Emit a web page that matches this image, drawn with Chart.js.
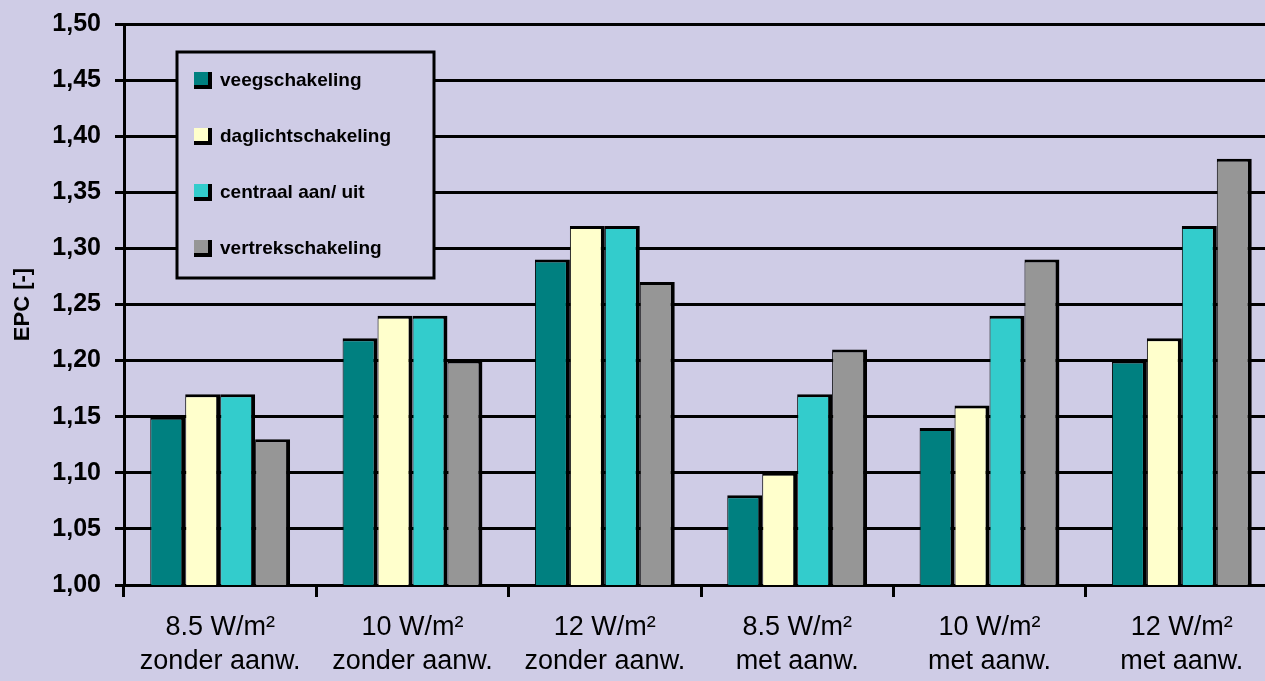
<!DOCTYPE html>
<html>
<head>
<meta charset="utf-8">
<title>EPC per verlichtingsschakeling</title>
<script src="https://cdn.jsdelivr.net/npm/chart.js@4.4.1/dist/chart.umd.min.js"></script>
<style>
    html, body { margin: 0; padding: 0; background: #cfcce6; overflow: hidden; }
    #wrap { width: 1292px; height: 681px; }
</style>
</head>
<body>
<div id="wrap"><canvas id="chart_epc" width="1292" height="681"></canvas></div>
<script>
const CATEGORIES = [
    ['8.5 W/m²', 'zonder aanw.'],
    ['10 W/m²', 'zonder aanw.'],
    ['12 W/m²', 'zonder aanw.'],
    ['8.5 W/m²', 'met aanw.'],
    ['10 W/m²', 'met aanw.'],
    ['12 W/m²', 'met aanw.']
];

const SERIES_NAMES = ['veegschakeling', 'daglichtschakeling', 'centraal aan/ uit', 'vertrekschakeling'];
const SERIES_COLORS = ['#008080', '#ffffcc', '#33cccc', '#969696'];

const VEEG = [1.15, 1.22, 1.29, 1.08, 1.14, 1.20];
const DAGLICHT = [1.17, 1.24, 1.32, 1.10, 1.16, 1.22];
const CENTRAAL = [1.17, 1.24, 1.32, 1.17, 1.24, 1.32];
const VERTREK = [1.13, 1.20, 1.27, 1.21, 1.29, 1.38];

const Y_MIN = 1.0;
const Y_MAX = 1.5;
const Y_STEP = 0.05;

const BG = '#cfcce6';
const FONT = "'Liberation Sans', Arial, sans-serif";

// paint the lavender background behind everything
var bgPlugin = {
    id: 'bg',
    beforeDraw(chart) {
        var c = chart.ctx;
        c.save();
        c.fillStyle = BG;
        c.fillRect(0, 0, chart.width, chart.height);
        c.restore();
    }
};

// boxed legend sitting inside the plot, one row per gridline
var boxLegend = {
    id: 'boxLegend',
    afterDatasetsDraw(chart) {
        var c = chart.ctx;
        var y = chart.scales.y;
        var x0 = 177, y0 = 52, x1 = 434, y1 = 278;
        c.save();
        c.fillStyle = BG;
        c.fillRect(x0, y0, x1 - x0, y1 - y0);
        c.lineWidth = 3;
        c.strokeStyle = '#000';
        c.strokeRect(x0, y0, x1 - x0, y1 - y0);
        c.font = 'bold 19px ' + FONT;
        c.textBaseline = 'middle';
        chart.data.datasets.forEach(function (ds, i) {
            var ry = Math.round(y.getPixelForValue(1.45 - i * 0.05));
            c.fillStyle = '#000';
            c.fillRect(194, ry - 8, 18, 17);
            c.fillStyle = ds.backgroundColor;
            c.fillRect(194, ry - 8, 14, 13);
            c.fillStyle = '#000';
            c.fillText(ds.label, 220, ry + 1);
        });
        c.restore();
    }
};

var datasets = [VEEG, DAGLICHT, CENTRAAL, VERTREK].map(function (values, i) {
    return {
        label: SERIES_NAMES[i],
        data: values,
        backgroundColor: SERIES_COLORS[i],
        borderColor: '#000',
        borderWidth: { top: 3, right: 4, left: 1, bottom: 0 },
        borderSkipped: 'bottom',
        barPercentage: 1.0,
        categoryPercentage: 0.727
    };
});

var ctx = document.getElementById('chart_epc');
var epcChart = new Chart(ctx, {
    type: 'bar',
    data: {
        labels: CATEGORIES,
        datasets: datasets
    },
    plugins: [bgPlugin, boxLegend],
    options: {
        responsive: false,
        animation: false,
        layout: { padding: { top: 22, right: 14, left: 0, bottom: 0 } },
        plugins: {
            legend: { display: false },
            tooltip: { enabled: false }
        },
        scales: {
            x: {
                offset: true,
                grid: {
                    display: true,
                    offset: true,
                    drawOnChartArea: false,
                    drawTicks: true,
                    tickLength: 12,
                    lineWidth: 3,
                    color: '#000'
                },
                border: { display: true, color: '#000', width: 3 },
                ticks: {
                    color: '#000',
                    padding: 13,
                    maxRotation: 0,
                    autoSkip: false,
                    font: { family: FONT, size: 27, lineHeight: 1.28 }
                },
                afterFit(scale) { scale.height = 96; }
            },
            y: {
                min: Y_MIN,
                max: Y_MAX,
                grid: {
                    color: '#000',
                    lineWidth: 3,
                    tickLength: 9
                },
                border: { display: true, color: '#000', width: 3 },
                ticks: {
                    stepSize: Y_STEP,
                    color: '#000',
                    padding: 14,
                    font: { family: FONT, size: 25, weight: 'bold', lineHeight: 0.8 },
                    callback: function (value) {
                        return value.toFixed(2).replace('.', ',');
                    }
                },
                title: {
                    display: true,
                    text: 'EPC [-]',
                    color: '#000',
                    padding: { top: 10, bottom: 0 },
                    font: { family: FONT, size: 22, weight: 'bold' }
                },
                afterFit(scale) { scale.width = 124; }
            }
        }
    }
});
</script>
</body>
</html>
